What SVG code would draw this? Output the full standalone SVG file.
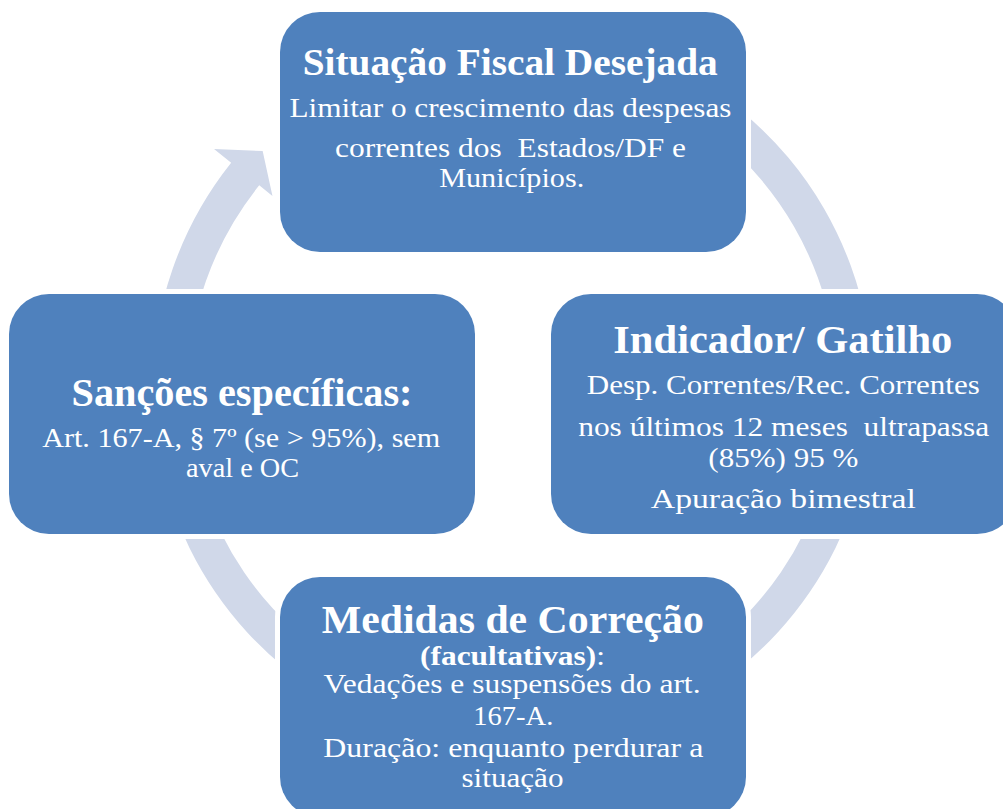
<svg xmlns="http://www.w3.org/2000/svg" width="1003" height="809" viewBox="0 0 1003 809">
<style>
.box{fill:#4F81BD;stroke:#FFFFFF;stroke-width:10;paint-order:stroke}
.seg{fill:#D0D8E9;stroke:none}
.t{font-family:"Liberation Serif","Times New Roman",serif;fill:#FFFFFF;text-anchor:middle;font-size:27px}
.h{font-weight:bold}
</style>
<rect width="1003" height="809" fill="#FFFFFF"/>
<g id="connectors">
<path class="seg" d="M575.01,34.47 A360,360 0 0 1 872.5,389 L837.5,389 A325,325 0 0 0 568.94,68.94 Z"/>
<path class="seg" d="M867.03,451.51 A360,360 0 0 1 605.68,736.73 L596.62,702.93 A325,325 0 0 0 832.56,445.44 Z"/>
<path class="seg" d="M419.32,736.73 A360,360 0 0 1 157.97,451.51 L192.44,445.44 A325,325 0 0 0 428.38,702.93 Z"/>
<path class="seg" d="M152.5,389 A361,361 0 0 1 231.16,162.8 L214.01,149.01 L262.66,151.08 L272.46,196 L259.21,185.35 A325,325 0 0 0 187.5,389 Z"/>
</g>
<g id="node-situacao">
<rect class="box" x="280" y="12" width="466" height="240" rx="40" ry="40"/>
<text class="t h" x="510.2" y="75" style="font-size:38px" textLength="415" lengthAdjust="spacingAndGlyphs">Situação Fiscal Desejada</text>
<text class="t" x="510.5" y="117" textLength="442" lengthAdjust="spacingAndGlyphs">Limitar o crescimento das despesas</text>
<text class="t" x="510.5" y="157" textLength="351" lengthAdjust="spacingAndGlyphs" xml:space="preserve">correntes dos  Estados/DF e</text>
<text class="t" x="511.7" y="187" textLength="145" lengthAdjust="spacingAndGlyphs">Municípios.</text>
</g>
<g id="node-sancoes">
<rect class="box" x="9" y="294" width="466" height="240" rx="40" ry="40"/>
<text class="t h" x="242" y="406" style="font-size:40px" textLength="341" lengthAdjust="spacingAndGlyphs">Sanções específicas:</text>
<text class="t" x="241.2" y="447" textLength="398" lengthAdjust="spacingAndGlyphs">Art. 167-A, § 7º (se &gt; 95%), sem</text>
<text class="t" x="242.5" y="477" textLength="113" lengthAdjust="spacingAndGlyphs">aval e OC</text>
</g>
<g id="node-indicador">
<rect class="box" x="551" y="294" width="466" height="240" rx="40" ry="40"/>
<text class="t h" x="782.8" y="353" style="font-size:41px" textLength="339" lengthAdjust="spacingAndGlyphs">Indicador/ Gatilho</text>
<text class="t" x="783.3" y="394" textLength="393" lengthAdjust="spacingAndGlyphs">Desp. Correntes/Rec. Correntes</text>
<text class="t" x="783.7" y="436" textLength="411" lengthAdjust="spacingAndGlyphs" xml:space="preserve">nos últimos 12 meses  ultrapassa</text>
<text class="t" x="783.3" y="467" textLength="150" lengthAdjust="spacingAndGlyphs">(85%) 95 %</text>
<text class="t" x="783.3" y="508" textLength="265" lengthAdjust="spacingAndGlyphs">Apuração bimestral</text>
</g>
<g id="node-medidas">
<rect class="box" x="280" y="577" width="466" height="240" rx="40" ry="40"/>
<text class="t h" x="512.8" y="633" style="font-size:40px" textLength="382" lengthAdjust="spacingAndGlyphs">Medidas de Correção</text>
<text class="t" x="512.5" y="665" style="font-size:28px" textLength="185" lengthAdjust="spacingAndGlyphs"><tspan font-weight="bold">(facultativas)</tspan>:</text>
<text class="t" x="512" y="693" textLength="377" lengthAdjust="spacingAndGlyphs">Vedações e suspensões do art.</text>
<text class="t" x="513.3" y="725" textLength="80" lengthAdjust="spacingAndGlyphs">167-A.</text>
<text class="t" x="513.3" y="757" textLength="380" lengthAdjust="spacingAndGlyphs">Duração: enquanto perdurar a</text>
<text class="t" x="512.5" y="787" textLength="102" lengthAdjust="spacingAndGlyphs">situação</text>
</g>
</svg>
